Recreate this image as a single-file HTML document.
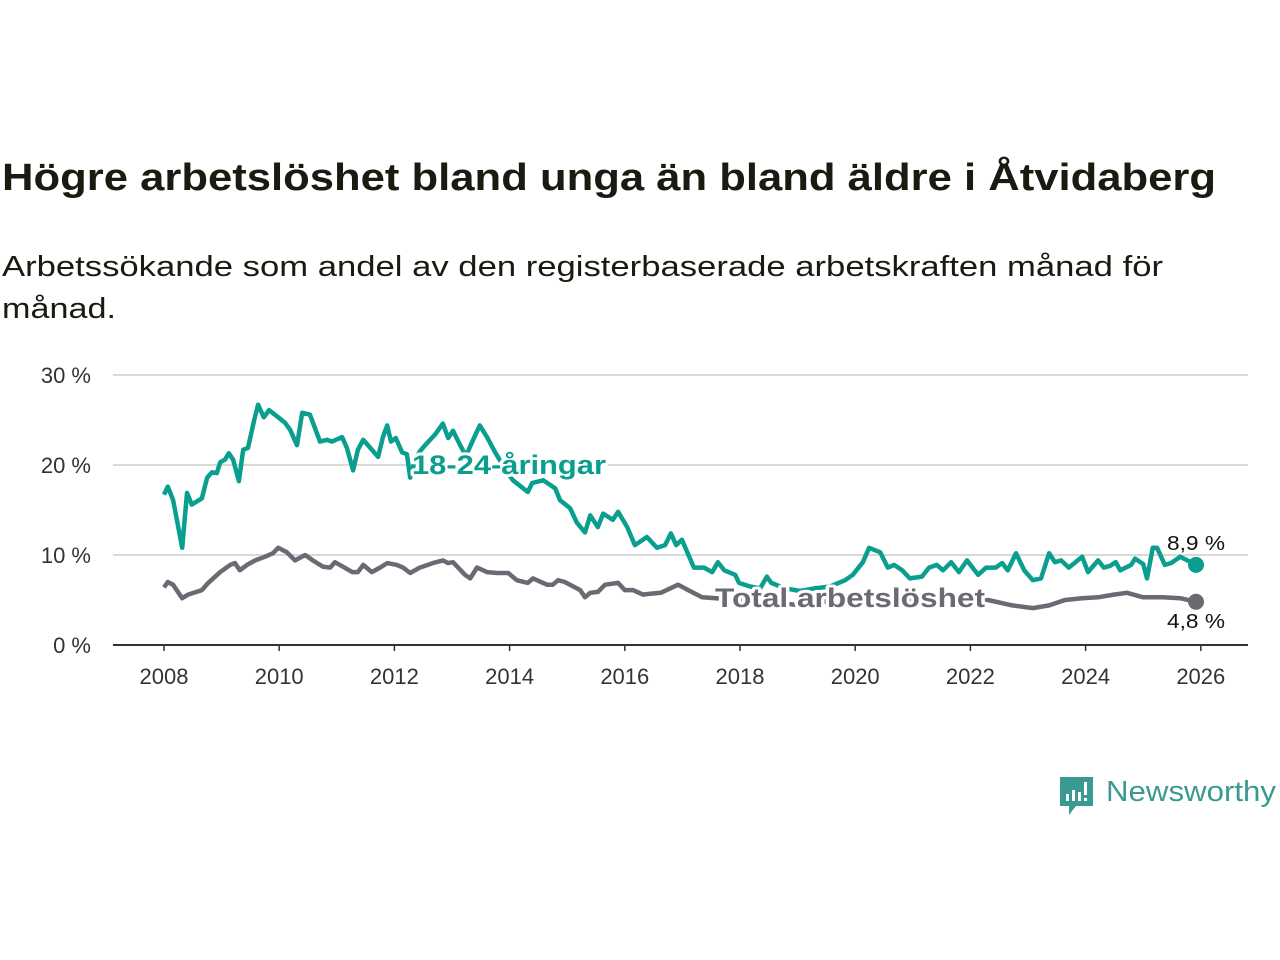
<!DOCTYPE html>
<html><head><meta charset="utf-8">
<style>
html,body{margin:0;padding:0;background:#fff;}
svg{display:block;font-family:"Liberation Sans",sans-serif;}
</style></head>
<body>
<svg id="chart" width="1280" height="960" viewBox="0 0 1280 960">
  <text x="2" y="190" font-size="38" font-weight="bold" fill="#1a1a10" textLength="1214" lengthAdjust="spacingAndGlyphs">Högre arbetslöshet bland unga än bland äldre i Åtvidaberg</text>
  <text x="2" y="276" font-size="29" fill="#1a1a10" textLength="1161" lengthAdjust="spacingAndGlyphs">Arbetssökande som andel av den registerbaserade arbetskraften månad för</text>
  <text x="2" y="318" font-size="29" fill="#1a1a10" textLength="114" lengthAdjust="spacingAndGlyphs">månad.</text>
  <g id="grid"></g>
  <g id="xaxis"></g>
  <g id="series"></g>
  <g id="labels"></g>
  <g>
    <path d="M1060 777 h33 v29 h-17 l-7 9 v-9 h-9 z" fill="#3a9a92"/>
    <rect x="1066" y="794" width="3" height="7" fill="#fff"/>
    <rect x="1072" y="790" width="3" height="11" fill="#fff"/>
    <rect x="1078" y="792" width="3" height="9" fill="#fff"/>
    <rect x="1084" y="782" width="3" height="13" fill="#fff"/>
    <rect x="1084" y="798" width="3" height="3" fill="#fff"/>
    <text x="1106" y="801" font-size="29" fill="#3a9a92" textLength="170" lengthAdjust="spacingAndGlyphs">Newsworthy</text>
  </g>
</svg>
<script>
// months since Jan 2008
const youthMonths=[0,0.8,1.9,3.8,4.8,5.8,7.9,9,10,11,11.7,12.7,13.5,14.4,15.6,16.5,17.5,18.8,19.6,20.8,21.9,23.8,25.2,26.3,27.7,28.8,30.4,32.5,34,35,37.1,38.1,39.4,40.4,41.5,42.5,44.6,45.6,46.5,47.3,48.3,49.6,50.6,51.3,52.3,53.3,54.4,56.5,58.1,59.2,60.2,61.7,62.9,64.4,65.8,67.3,69,70,71,72.7,75.8,76.7,79,81.5,82.5,84.6,86,87.7,88.8,90.4,91.5,93.5,94.6,96.5,98.1,100.6,102.7,104.4,105.6,106.7,107.9,110.4,112.5,114.2,115.4,116.7,119,119.8,122.1,124.2,125.6,126.5,129.4,132.5,135.6,138.8,141.9,143.5,145.6,146.9,149.2,150.8,152.1,153.8,155.4,157.9,159.4,161,162.3,164,165.6,167.3,169.6,171.3,173.3,174.6,175.8,177.5,179.2,181,182.7,184.4,185.6,186.9,188.5,191.3,192.5,194.6,195.8,197.1,198.3,199.2,201.5,202.3,204,204.8,206,206.9,208.5,209.8,211.7,215];
const youthValues=[16.7,17.6,16.1,10.8,16.9,15.6,16.3,18.6,19.2,19.1,20.3,20.6,21.3,20.6,18.2,21.7,21.9,25,26.7,25.3,26.1,25.3,24.7,23.9,22.2,25.8,25.6,22.6,22.8,22.6,23.1,21.9,19.4,21.7,22.8,22.2,20.9,23.1,24.4,22.6,23,21.4,21.2,18.6,20.5,21.5,22.2,23.4,24.6,23,23.8,22.2,21,22.8,24.4,23.1,21.4,20.5,19.5,18.3,17,18,18.3,17.4,16.1,15.2,13.6,12.5,14.4,13.1,14.6,13.9,14.8,13.1,11.1,12,10.8,11.1,12.4,11.1,11.7,8.6,8.6,8.1,9.2,8.3,7.8,6.9,6.5,6.3,7.6,6.9,6.3,6,6.3,6.5,7.2,7.8,9.2,10.8,10.3,8.6,8.9,8.3,7.4,7.6,8.6,8.9,8.3,9.2,8.1,9.4,7.8,8.6,8.6,9.1,8.3,10.2,8.3,7.2,7.4,10.2,9.2,9.4,8.6,9.8,8.1,9.4,8.6,8.8,9.2,8.3,8.9,9.6,9,7.4,10.8,10.8,8.9,9.1,9.8,8.9];
const totalMonths=[0,0.8,1.9,3.8,5,7.9,9.2,11.7,13.8,14.8,15.8,17.3,19,21,22.7,23.8,25.6,27.3,29.4,31,33.1,34.6,35.6,37.3,39.2,40.4,41.5,43.3,45,46.5,48.5,49.8,51.3,53.3,56,58.1,59.2,60.2,62.7,63.8,65.2,67.3,69.4,71.7,73.5,75.8,76.9,79.8,81,82.1,83.5,86.7,87.7,88.8,90.4,91.9,94.6,96,97.7,99.8,101.3,103.5,107.1,109.2,112.1,115,120,126.3,132.5,138.8,147.1,155.4,163.8,171.7,176.7,181,184.4,187.7,191.3,194.6,197.9,200.6,204,208.1,211.7,215];
const totalValues=[6.4,7,6.7,5.2,5.6,6.1,6.9,8.1,8.9,9.1,8.3,8.9,9.4,9.8,10.2,10.8,10.3,9.4,10,9.4,8.7,8.6,9.2,8.7,8.1,8.1,8.9,8.1,8.6,9.1,8.9,8.6,8,8.6,9.1,9.4,9.1,9.2,7.8,7.4,8.6,8.1,8,8,7.2,6.9,7.4,6.7,6.7,7.2,7,6.1,5.3,5.8,5.9,6.7,6.9,6.1,6.1,5.6,5.7,5.8,6.7,6.1,5.3,5.2,5,4.8,4.4,4.9,5.2,5,4.9,5,4.4,4.1,4.4,5,5.2,5.3,5.6,5.8,5.3,5.3,5.2,4.8];
const yTicks=[0,10,20,30];
const yTickLabels=["0 %","10 %","20 %","30 %"];
const xTicks=[2008,2010,2012,2014,2016,2018,2020,2022,2024,2026];

const NS="http://www.w3.org/2000/svg";
const X0=164, PXY=57.6, Y0=645, PXV=9;
const xm=m=>X0+m*PXY/12;
const xy=yr=>X0+(yr-2008)*PXY;
const yv=v=>Y0-v*PXV;
function mk(tag,attrs,parent,txt){const e=document.createElementNS(NS,tag);for(const k in attrs)e.setAttribute(k,attrs[k]);if(txt!==undefined)e.textContent=txt;parent.appendChild(e);return e;}
const grid=document.getElementById('grid'),xa=document.getElementById('xaxis'),ser=document.getElementById('series'),lab=document.getElementById('labels');
yTicks.forEach((t,i)=>{
  if(t>0){const l=mk('line',{x1:113,x2:1248,y1:yv(t),y2:yv(t),stroke:'#d9d9d9','stroke-width':2},grid);
  
  }
  const tx=mk('text',{x:91,y:yv(t)+8,'font-size':22,fill:'#333','text-anchor':'end'},grid,yTickLabels[i]);
  
  
});
const ax=mk('line',{x1:113,x2:1248,y1:Y0,y2:Y0,stroke:'#333','stroke-width':2},xa);


xTicks.forEach(t=>{
  mk('line',{x1:xy(t),x2:xy(t),y1:Y0,y2:Y0+6,stroke:'#333','stroke-width':1.5},xa);
  const tx=mk('text',{x:xy(t),y:Y0+39,'font-size':22,fill:'#333','text-anchor':'middle'},xa,String(t));
  
  
});
function line(ms,vs,color,name){
  const d=ms.map((m,i)=>(i?'L':'M')+xm(m).toFixed(1)+' '+yv(vs[i]).toFixed(1)).join(' ');
  const p=mk('path',{d:d,fill:'none',stroke:color,'stroke-width':4.5,'stroke-linejoin':'round'},ser);
  
  
  const n=ms.length-1;
  const c=mk('circle',{cx:xm(ms[n]),cy:yv(vs[n]),r:8,fill:color},ser);
  
  
}
line(totalMonths,totalValues,'#6b6a72','total-line');
line(youthMonths,youthValues,'#0a9e8f','youth-line');
function label(x,y,t,color,size,bold,name,len){
  const a={x:x,y:y,'font-size':size,fill:color,stroke:'#fff','stroke-width':size>22?6:4,'paint-order':'stroke','stroke-linejoin':'round'};
  if(bold)a['font-weight']='bold';
  if(len){a.textLength=len;a.lengthAdjust='spacingAndGlyphs';}
  const e=mk('text',a,lab,t);
  
  
}
label(412,474,'18-24-åringar','#0a9e8f',27,true,'youth-series-label',194);
label(715,607,'Total arbetslöshet','#6b6a72',27,true,'total-series-label',270);
const n1=youthValues.length-1,n2=totalValues.length-1;
label(1167,550,youthValues[n1].toFixed(1).replace('.',',')+' %','#111',20,false,'youth-end-value',58);
label(1167,628,totalValues[n2].toFixed(1).replace('.',',')+' %','#111',20,false,'total-end-value',58);
</script>
</body></html>
